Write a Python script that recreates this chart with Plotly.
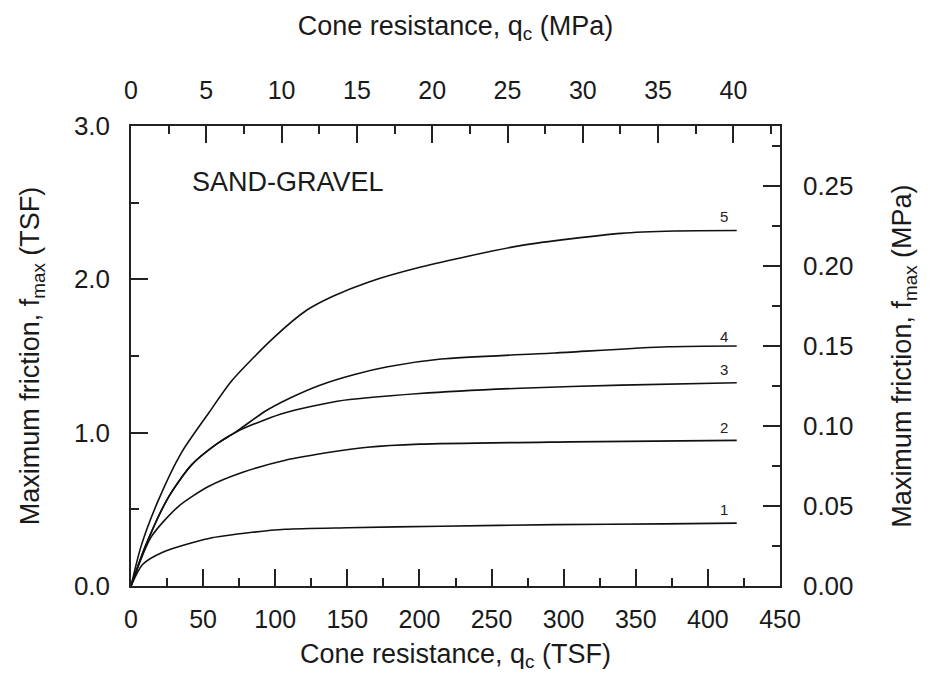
import plotly.graph_objects as go

# ---- data ----
TSF_PER_MPA = 10.4427

x1 = [0, 8, 22, 54, 84, 107, 150, 215, 294, 370, 420]
y1 = [0, 0.14, 0.22, 0.31, 0.35, 0.37, 0.38, 0.39, 0.40, 0.405, 0.41]

x2 = [0, 14, 33, 54, 77, 107, 140, 164, 200, 305, 420]
y2 = [0, 0.32, 0.52, 0.65, 0.74, 0.82, 0.875, 0.905, 0.925, 0.94, 0.95]

x3 = [0, 10, 26, 42, 60, 72, 93, 107, 143, 200, 270, 340, 420]
y3 = [0, 0.26, 0.58, 0.79, 0.93, 1.00, 1.085, 1.13, 1.205, 1.255, 1.29, 1.31, 1.326]

x4 = [0, 10, 26, 42, 60, 72, 93, 110, 131, 155, 178, 215, 294, 372, 420]
y4 = [0, 0.26, 0.58, 0.79, 0.93, 1.00, 1.14, 1.225, 1.31, 1.38, 1.43, 1.48, 1.52, 1.56, 1.565]

x5 = [0, 7, 19, 35, 54, 70, 99, 122, 140, 164, 201, 270, 340, 377, 420]
y5 = [0, 0.26, 0.56, 0.87, 1.13, 1.34, 1.62, 1.80, 1.89, 1.98, 2.08, 2.22, 2.30, 2.315, 2.318]

curve_names = ["1", "2", "3", "4", "5"]
label_x = [411, 411, 411, 411, 411]
label_y = [0.50, 1.035, 1.41, 1.63, 2.41]

bottom_ticks = [0, 50, 100, 150, 200, 250, 300, 350, 400, 450]
top_ticks = [0, 5, 10, 15, 20, 25, 30, 35, 40]
left_ticks = [0.0, 1.0, 2.0, 3.0]
right_ticks = [0.00, 0.05, 0.10, 0.15, 0.20, 0.25]

FONT = "Liberation Sans, Arial, sans-serif"
XTICKFONT = dict(family=FONT, size=25, color="#1a1a1a")
YTICKFONT = dict(family=FONT, size=26, color="#1a1a1a")
TITLEFONT = dict(family=FONT, size=27, color="#1a1a1a")
LINE = "#222222"

fig = go.Figure()
series = [(x1, y1), (x2, y2), (x3, y3), (x4, y4), (x5, y5)]
for (xs, ys), name in zip(series, curve_names):
    fig.add_trace(go.Scatter(x=xs, y=ys, mode="lines", name=name,
                             line=dict(color="#111111", width=1.6, shape="spline", smoothing=0.7),
                             showlegend=False, hoverinfo="skip"))

# invisible trace to anchor the secondary (MPa) axes
fig.add_trace(go.Scatter(x=[v / TSF_PER_MPA for v in x5], y=[v / TSF_PER_MPA for v in y5],
                         xaxis="x2", yaxis="y2", mode="lines", opacity=0,
                         showlegend=False, hoverinfo="skip"))

for name, lx, ly in zip(curve_names, label_x, label_y):
    fig.add_annotation(x=lx, y=ly, text=name, showarrow=False,
                       font=dict(family=FONT, size=15, color="#222222"))

fig.add_annotation(x=109, y=2.635, text="SAND-GRAVEL", showarrow=False,
                   font=dict(family=FONT, size=27, color="#1a1a1a"))

common = dict(showline=True, linecolor=LINE, linewidth=1.5, ticks="inside",
              tickcolor=LINE, tickwidth=1.5, ticklen=17, showgrid=False,
              zeroline=False)

# the page body adds an 8 px offset; size the figure so the plot box lands where the reference has it
fig.update_layout(
    width=922, height=681,
    margin=dict(l=123, r=150, t=118, b=103),
    paper_bgcolor="white", plot_bgcolor="white",
    xaxis=dict(range=[0, 450], tickvals=bottom_ticks, tickfont=XTICKFONT,
               minor=dict(dtick=25, ticks="inside", ticklen=8, tickcolor=LINE, tickwidth=1.5),
               title=dict(text="Cone resistance, q<sub>c</sub> (TSF)", font=TITLEFONT, standoff=12),
               ticklabelstandoff=10, **common),
    xaxis2=dict(range=[0, 450 / TSF_PER_MPA], tickvals=top_ticks, overlaying="x", side="top",
                tickfont=XTICKFONT,
                minor=dict(dtick=2.5, ticks="inside", ticklen=8, tickcolor=LINE, tickwidth=1.5),
                title=dict(text="Cone resistance, q<sub>c</sub> (MPa)", font=TITLEFONT, standoff=33),
                ticklabelstandoff=15, **common),
    yaxis=dict(range=[0, 3], tickvals=left_ticks, tickformat=".1f", tickfont=YTICKFONT,
               minor=dict(dtick=0.5, ticks="inside", ticklen=8, tickcolor=LINE, tickwidth=1.5),
               title=dict(text="Maximum friction, f<sub>max</sub> (TSF)", font=TITLEFONT, standoff=26),
               ticklabelstandoff=14, **common),
    yaxis2=dict(range=[0, 3 / TSF_PER_MPA], tickvals=right_ticks, tickformat=".2f",
                overlaying="y", side="right", tickfont=YTICKFONT,
                minor=dict(dtick=0.025, ticks="inside", ticklen=8, tickcolor=LINE, tickwidth=1.5),
                title=dict(text="Maximum friction, f<sub>max</sub> (MPa)", font=TITLEFONT, standoff=40),
                ticklabelstandoff=16, **common),
)

fig.write_html("out.html")
